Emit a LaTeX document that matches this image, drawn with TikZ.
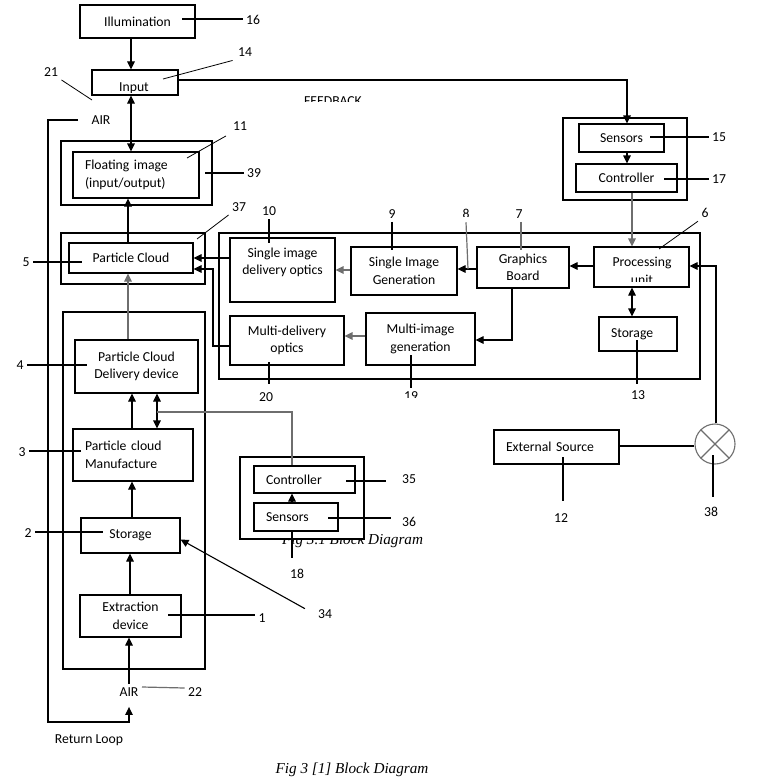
\documentclass[tikz,border=0pt]{standalone}
\usepackage{fontspec}
\setmainfont{Carlito}
\newfontfamily\capfont{Liberation Serif}
\usepackage{tikz}
\usetikzlibrary{arrows.meta,positioning,calc}
\definecolor{linegray}{RGB}{110,110,110}

\begin{document}
\begin{tikzpicture}[x=1pt,y=-1pt,
    every node/.style={font=\fontsize{13.7}{17.5}\selectfont},
    box/.style={draw,line width=1.1pt,inner sep=0pt,align=center},
    lbox/.style={box,align=left,inner xsep=12pt},
    ln/.style={line width=1.1pt},
    lt/.style={line width=0.8pt},
    lg/.style={line width=1.2pt,draw=linegray},
    arr/.style={ln,-{Triangle[length=8pt,width=7.5pt]}},
    dbl/.style={ln,{Triangle[length=8pt,width=7.5pt]}-{Triangle[length=8pt,width=7.5pt]}},
    capt/.style={font=\capfont\itshape\fontsize{15.2}{18}\selectfont,anchor=base}]
    \path[fill=white,use as bounding box] (0,0) rectangle (766,784);

    % left column
    \node[box,minimum width=115pt,minimum height=33pt] (illum) at (137.5,21.5) {Illumination};
    \node[box,minimum width=86pt,minimum height=25pt] (input) at (135,82.5) {};
    \begin{scope}
        \clip (92,70) rectangle (178,92);
        \node (inputtxt) at (134,88) {Input};
    \end{scope}
    \node[box,minimum width=151pt,minimum height=64pt] (fiout) at (136.5,173) {};
    \node[lbox,text width=102pt,minimum height=46pt] (fi) at (136,175) {Floating image\\(input/output)};
    \node[box,minimum width=144pt,minimum height=51pt] (pcout) at (133,258.5) {};
    \node[box,minimum width=124pt,minimum height=30pt] (pc) at (131,258) {Particle Cloud};
    \node[box,minimum width=142pt,minimum height=357pt] (mfout) at (134,490.5) {};
    \node[box,minimum width=123pt,minimum height=53pt] (pcdd) at (136.5,366.5) {Particle Cloud\\Delivery device};
    \node[lbox,text width=96pt,minimum height=52pt] (mfr) at (133,455) {Particle cloud\\Manufacture};
    \node[box,minimum width=99pt,minimum height=35pt] (storeA) at (130.5,535.5) {Storage};
    \node[box,minimum width=101pt,minimum height=42pt] (extract) at (130.5,616) {Extraction\\device};
    \node (air1) at (101,120) {AIR};
    \node (air2) at (129,692) {AIR};
    \node (retloop) at (89,740) {Return Loop};

    % feedback sensors (top right)
    \begin{scope}
        \clip (300,90) rectangle (370,101);
        \node (fbtxt) at (333,101.5) {FEEDBACK};
    \end{scope}
    \node[box,minimum width=124pt,minimum height=82pt] (fbout) at (625,159) {};
    \node[box,minimum width=85pt,minimum height=28pt] (sensA) at (621.5,138) {Sensors};
    \node[box,minimum width=101pt,minimum height=28pt] (ctrlA) at (626.5,178) {Controller};

    % processing block
    \node[box,minimum width=481pt,minimum height=146pt] (procout) at (459.5,306) {};
    \node[box,minimum width=105pt,minimum height=64pt,text depth=18pt] (sdo) at (282.5,270) {Single image\\delivery optics};
    \node[box,minimum width=106pt,minimum height=48pt] (sig) at (404,271) {Single Image\\Generation};
    \node[box,minimum width=92pt,minimum height=41pt] (gb) at (523,267.5) {Graphics\\Board};
    \node[box,minimum width=95pt,minimum height=40pt] (proc) at (641.5,267) {};
    \begin{scope}
        \clip (594,247) rectangle (689,281);
        \node[align=center] (proctxt) at (642,271) {Processing\\unit};
    \end{scope}
    \node[box,minimum width=114pt,minimum height=49pt] (mdo) at (287,340.5) {Multi-delivery\\optics};
    \node[box,minimum width=109pt,minimum height=52pt] (mig) at (420.5,339) {Multi-image\\generation};
    \node[lbox,text width=54pt,minimum height=34pt] (storeB) at (638,334) {Storage};

    % external source and junction
    \node[lbox,text width=101pt,minimum height=34pt] (ext) at (556.5,447) {External Source};
    \node[circle,draw=linegray,line width=1.1pt,minimum size=40pt,inner sep=0pt,
        path picture={\draw[linegray,line width=1.1pt]
            (path picture bounding box.north west) -- (path picture bounding box.south east)
            (path picture bounding box.south west) -- (path picture bounding box.north east);}]
        (sum) at (715,444) {};

    % lower controller (covers the old caption)
    \node[capt] (cap2) at (352.5,544) {Fig 3.1 Block Diagram};
    \node[box,fill=white,minimum width=124pt,minimum height=82pt] (ctlout) at (302,498) {};
    \node[lbox,text width=77pt,minimum height=27pt] (ctrlB) at (304.5,479.5) {Controller};
    \node[lbox,text width=60pt,minimum height=28pt] (sensB) at (296,517) {Sensors};

    % connectors
    \draw[arr] (illum.south -| 131,0) -- (input.north -| 131,0);
    \draw[dbl] (input.south -| 131,0) -- (fi.north -| 131,0);
    \draw[arr] (pc.north -| 128,0) -- (fi.south -| 128,0);
    \draw[arr,lg] (pcdd.north -| 128,0) -- (pc.south -| 128,0);
    \draw[arr] (mfr.north -| 132,0) -- (pcdd.south -| 132,0);
    \draw[dbl] (mfr.north -| 157,0) -- (pcdd.south -| 157,0);
    \coordinate (tap) at (157,412);
    \draw[lg] (tap) -| (ctrlB.north -| 292,0);
    \draw[arr] (sensB.north -| 292,0) -- (ctrlB.south -| 292,0);
    \draw[arr] (storeA.north -| 132,0) -- (mfr.south -| 132,0);
    \draw[arr] (extract.north -| 130,0) -- (storeA.south -| 130,0);
    \draw[arr] (air2.north) -- (extract.south -| 129,0);
    \draw[arr,shorten <=10pt,shorten >=7pt] (air1.west) -| (48,722) -| (air2.south); % return loop

    \draw[arr] (input.east |- 0,80) -| (sensA.north -| 627,0);
    \draw[arr] (sensA.south -| 627,0) -- (ctrlA.north -| 627,0);
    \draw[arr,lg] (ctrlA.south -| 632,0) -- (proc.north -| 632,0);
    \draw[arr] (proc.west |- 0,266) -- (gb.east |- 0,266);
    \draw[arr] (gb.west |- 0,269) -- (sig.east |- 0,269);
    \draw[arr,lg] (sig.west |- 0,270) -- (sdo.east |- 0,270);
    \draw[arr] (sdo.west |- 0,258) -- (pc.east |- 0,258);
    \draw[arr] (mdo.west |- 0,346) -| (213,269) -- (pc.east |- 0,269);
    \draw[arr] (gb.south -| 512,0) |- (mig.east |- 0,340);
    \draw[arr,lg] (mig.west |- 0,336) -- (mdo.east |- 0,336);
    \draw[dbl] (proc.south -| 632,0) -- (storeB.north -| 632,0);
    \draw[arr] (sum.north -| 716,0) |- (proc.east |- 0,266);
    \draw[ln] (ext.east |- 0,446) -- (sum.west |- 0,446);

    % reference numbers
    \node (n16) at (253,20) {16};
    \node (n14) at (245,52) {14};
    \node (n21) at (51,72) {21};
    \node (n11) at (240,126) {11};
    \node (n39) at (254,173) {39};
    \node (n37) at (239,207) {37};
    \begin{scope}
        \clip (255,200) rectangle (285,215);
        \node (n10) at (269,211) {10};
    \end{scope}
    \node (n9) at (392,214) {9};
    \begin{scope}
        \clip (455,200) rectangle (480,216);
        \node (n8) at (466,214) {8};
    \end{scope}
    \node (n7) at (519,214) {7};
    \begin{scope}
        \clip (695,200) rectangle (715,217);
        \node (n6) at (705,213) {6};
    \end{scope}
    \node (n15) at (719,137) {15};
    \node (n17) at (719,179) {17};
    \node (n5) at (26,262) {5};
    \node (n4) at (20,365) {4};
    \node (n20) at (266,397) {20};
    \begin{scope}
        \clip (395,385) rectangle (430,397);
        \node (n19) at (411,396) {19};
    \end{scope}
    \node (n13) at (638,395) {13};
    \node (n3) at (22,452) {3};
    \node (n2) at (28,533) {2};
    \node (n1) at (262,618) {1};
    \node (n34) at (325,614) {34};
    \node (n35) at (409,479) {35};
    \node (n36) at (409,522) {36};
    \node (n18) at (297,574) {18};
    \node (n12) at (561,518) {12};
    \node (n38) at (711,512) {38};
    \node (n22) at (195,692) {22};

    \draw[ln] (182,19) -- (n16.west |- 0,19);
    \draw[lt,shorten >=2pt] (163,79) -- (n14.south west);
    \draw[lt] (n21.south east) -- (92,100);
    \draw[lt,shorten >=4pt] (187,158) -- (n11.south west);
    \draw[ln] (205,173) -- (n39.west);
    \draw[lt] (197,239) -- (n37.south west);
    \draw[ln] (n10.south) -- (269,243);
    \draw[ln] (n9.south) -- (392,250);
    \draw[lg] (n8.south) -- (468,269);
    \draw[lg] (n7.south -| 521,0) -- (521,250);
    \draw[lt] (659,249) -- (n6.south west);
    \draw[ln] (650,137) -- (n15.west);
    \draw[ln] (664,179) -- (n17.west);
    \draw[ln] (n5.east) -- (82,262);
    \draw[ln] (n4.east) -- (87,365);
    \draw[ln,shorten >=5pt] (269,362) -- (n20.north -| 269,0);
    \draw[ln] (411,355) -- (n19.north);
    \draw[ln,shorten >=3pt] (637,340) -- (n13.north -| 637,0);
    \draw[ln] (n3.east |- 0,451) -- (81,451);
    \draw[ln] (n2.east |- 0,532) -- (103,532);
    \draw[ln] (168,615) -- (n1.west |- 0,615);
    \draw[arr,shorten <=11pt] (n34.west) -- ([yshift=-4pt]storeA.east);
    \draw[ln,shorten >=13pt] (346,481) -- (n35.west |- 0,481);
    \draw[ln,shorten >=8pt] (328,518) -- (n36.west |- 0,518);
    \draw[ln,shorten >=8pt] (292,531) -- (n18.north -| 292,0);
    \draw[ln,shorten >=9pt] (563,457) -- (n12.north -| 563,0);
    \draw[ln,shorten >=7pt] (713,455) -- (n38.north -| 713,0);
    \draw[lg] (142,687) -- (n22.west |- 0,688);

    \node[capt] (cap1) at (352,773) {Fig 3 [1] Block Diagram};
\end{tikzpicture}
\end{document}
